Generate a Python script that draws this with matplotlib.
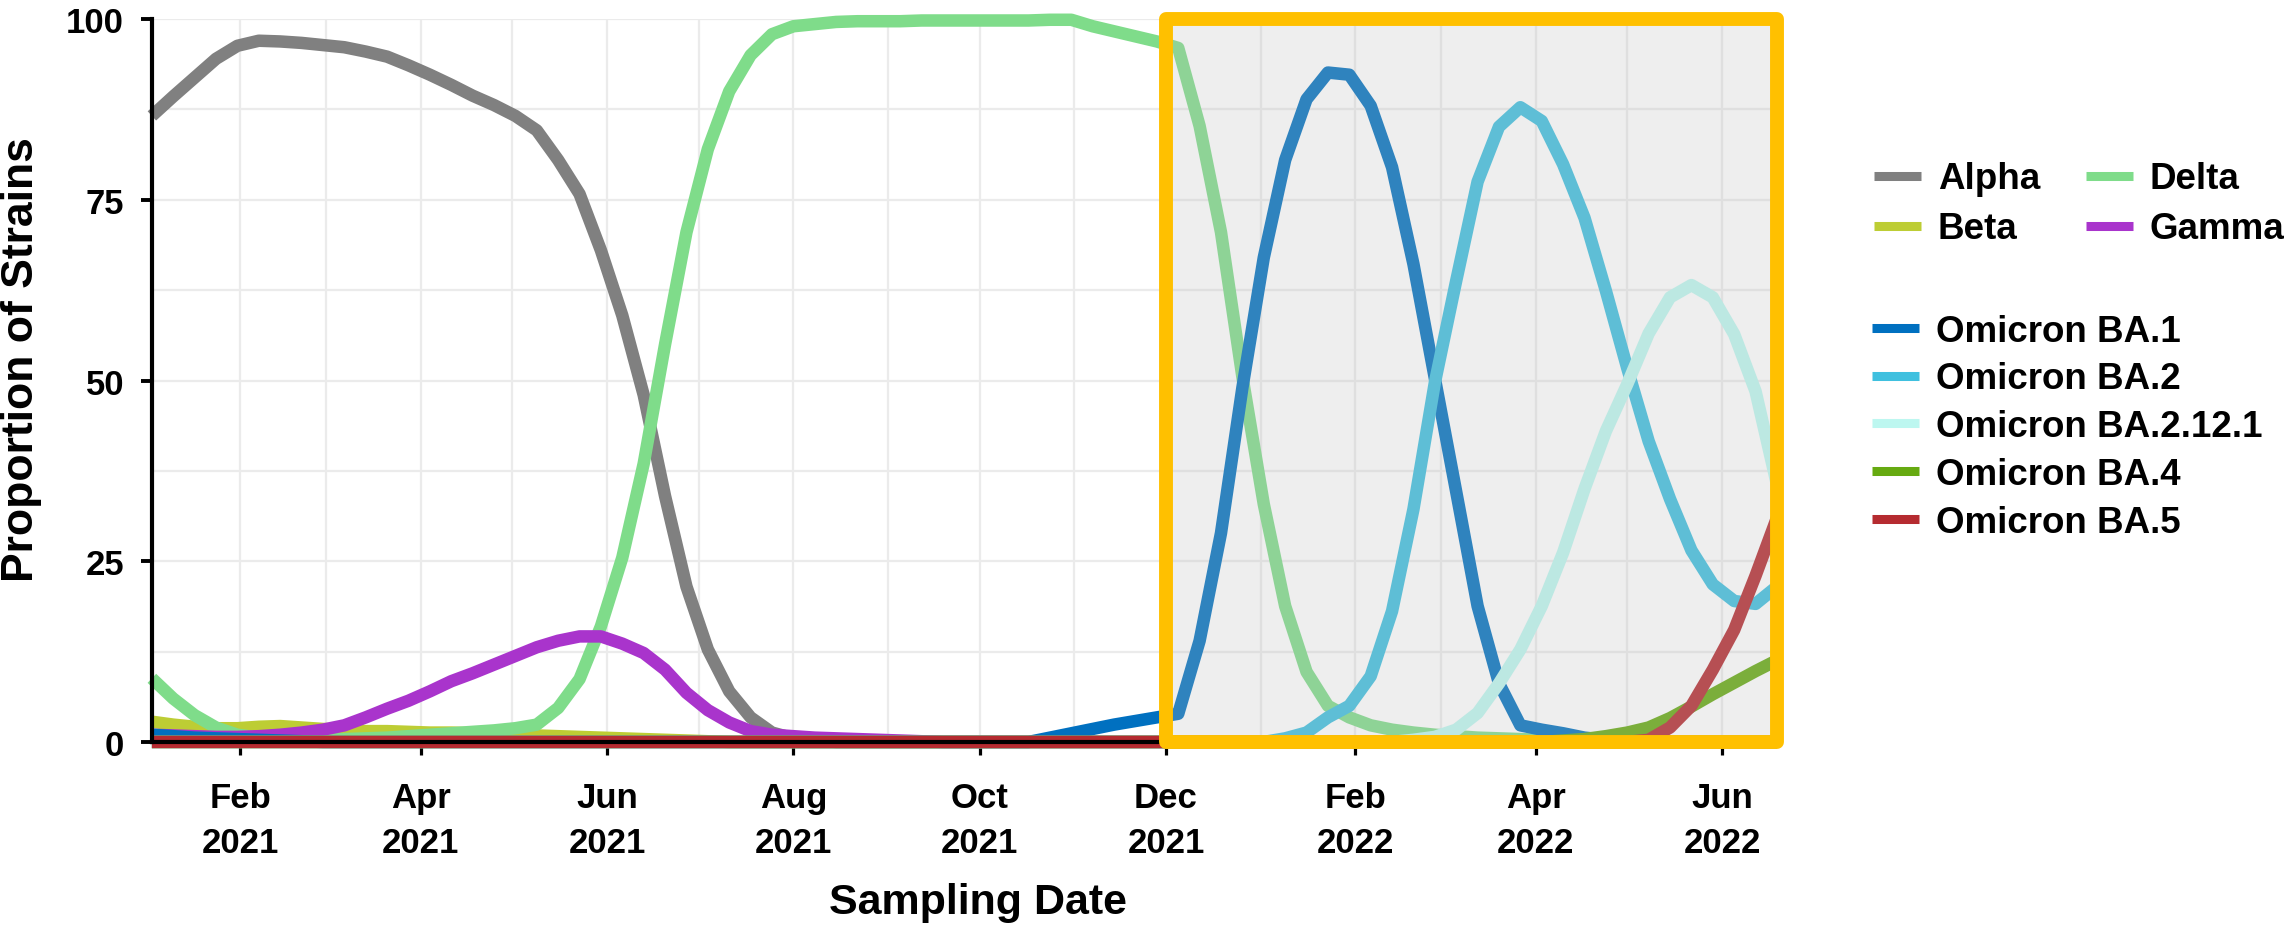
import matplotlib.pyplot as plt
import matplotlib.dates as mdates
from matplotlib.patches import Rectangle
from matplotlib.ticker import MultipleLocator
import pandas as pd

# weekly sampling dates (Sunday), Jan 2021 - Jun 2022
dates = pd.date_range('2021-01-03', '2022-06-19', freq='7D')

alpha = [86.6, 89.3, 91.9, 94.5, 96.3, 97.0, 96.9, 96.7, 96.4, 96.1,
         95.5, 94.8, 93.6, 92.3, 90.9, 89.4, 88.1, 86.6, 84.6, 80.5,
         75.8, 68.0, 59.0, 48.0, 34.0, 21.5, 12.8, 7.0, 3.4, 1.3,
         0.5, 0.2, 0, 0, 0, 0, 0, 0, 0, 0,
         0, 0, 0, 0, 0, 0, 0, 0, 0, 0,
         0, 0, 0, 0, 0, 0, 0, 0, 0, 0,
         0, 0, 0, 0, 0, 0, 0, 0, 0, 0,
         0, 0, 0, 0, 0, 0, 0]
beta = [2.8, 2.4, 2.1, 1.9, 1.9, 2.1, 2.2, 2.0, 1.8, 1.7,
        1.5, 1.5, 1.4, 1.3, 1.3, 1.2, 1.1, 1.0, 0.9, 0.8,
        0.7, 0.6, 0.5, 0.4, 0.3, 0.2, 0.1, 0, 0, 0,
        0, 0, 0, 0, 0, 0, 0, 0, 0, 0,
        0, 0, 0, 0, 0, 0, 0, 0, 0, 0,
        0, 0, 0, 0, 0, 0, 0, 0, 0, 0,
        0, 0, 0, 0, 0, 0, 0, 0, 0, 0,
        0, 0, 0, 0, 0, 0, 0]
delta = [8.8, 6.0, 3.7, 2.0, 1.0, 0.6, 0.4, 0.3, 0.3, 0.4,
         0.5, 0.6, 0.8, 1.0, 1.2, 1.4, 1.6, 1.9, 2.4, 4.7,
         8.7, 16.0, 25.5, 38.5, 55.0, 70.5, 82.0, 90.0, 95.0, 97.9,
         99.0, 99.3, 99.6, 99.7, 99.7, 99.7, 99.8, 99.8, 99.8, 99.8,
         99.8, 99.8, 99.9, 99.9, 99.0, 98.3, 97.6, 96.9, 96.0, 85.2,
         70.5, 50.5, 32.9, 18.8, 9.7, 5.0, 3.4, 2.3, 1.7, 1.3,
         1.0, 0.8, 0.6, 0.5, 0.4, 0.3, 0.2, 0.1, 0, 0,
         0, 0, 0, 0, 0, 0, 0]
gamma = [1.0, 0.9, 0.8, 0.7, 0.7, 0.8, 1.0, 1.3, 1.7, 2.3,
         3.4, 4.6, 5.7, 7.0, 8.4, 9.5, 10.7, 11.9, 13.1, 14.0,
         14.6, 14.6, 13.6, 12.3, 10.0, 6.8, 4.4, 2.7, 1.5, 1.0,
         0.8, 0.6, 0.5, 0.4, 0.3, 0.2, 0.1, 0, 0, 0,
         0, 0, 0, 0, 0, 0, 0, 0, 0, 0,
         0, 0, 0, 0, 0, 0, 0, 0, 0, 0,
         0, 0, 0, 0, 0, 0, 0, 0, 0, 0,
         0, 0, 0, 0, 0, 0, 0]
ba1 = [1.0, 0.8, 0.6, 0.5, 0.4, 0.3, 0.2, 0.1, 0, 0,
       0, 0, 0, 0, 0, 0, 0, 0, 0, 0,
       0, 0, 0, 0, 0, 0, 0, 0, 0, 0,
       0, 0, 0, 0, 0, 0, 0, 0, 0, 0,
       0, 0, 0.6, 1.2, 1.8, 2.4, 2.9, 3.4, 3.9, 14.0,
       28.9, 49.0, 67.0, 80.5, 88.9, 92.6, 92.3, 88.0, 79.5, 66.1,
       50.3, 34.6, 18.8, 8.1, 2.3, 1.7, 1.2, 0.6, 0.3, 0,
       0, 0, 0, 0, 0, 0, 0]
ba2 = [0, 0, 0, 0, 0, 0, 0, 0, 0, 0,
       0, 0, 0, 0, 0, 0, 0, 0, 0, 0,
       0, 0, 0, 0, 0, 0, 0, 0, 0, 0,
       0, 0, 0, 0, 0, 0, 0, 0, 0, 0,
       0, 0, 0, 0, 0, 0, 0, 0, 0, 0,
       0, 0, 0, 0.5, 1.3, 3.4, 5.0, 9.1, 18.1, 32.2,
       49.7, 63.8, 77.5, 85.1, 87.8, 85.9, 79.9, 72.5, 62.4, 51.7,
       41.6, 33.6, 26.5, 21.8, 19.5, 19.1, 21.5]
ba2121 = [0, 0, 0, 0, 0, 0, 0, 0, 0, 0,
          0, 0, 0, 0, 0, 0, 0, 0, 0, 0,
          0, 0, 0, 0, 0, 0, 0, 0, 0, 0,
          0, 0, 0, 0, 0, 0, 0, 0, 0, 0,
          0, 0, 0, 0, 0, 0, 0, 0, 0, 0,
          0, 0, 0, 0, 0, 0, 0, 0, 0, 0.3,
          0.7, 1.7, 4.0, 8.1, 12.8, 18.8, 26.2, 35.0, 43.0, 49.5,
          56.5, 61.5, 63.2, 61.5, 56.4, 48.5, 35.6]
ba4 = [0, 0, 0, 0, 0, 0, 0, 0, 0, 0,
       0, 0, 0, 0, 0, 0, 0, 0, 0, 0,
       0, 0, 0, 0, 0, 0, 0, 0, 0, 0,
       0, 0, 0, 0, 0, 0, 0, 0, 0, 0,
       0, 0, 0, 0, 0, 0, 0, 0, 0, 0,
       0, 0, 0, 0, 0, 0, 0, 0, 0, 0,
       0, 0, 0, 0, 0, 0, 0.2, 0.4, 0.8, 1.3,
       2.0, 3.3, 4.9, 6.6, 8.2, 9.8, 11.3]
ba5 = [0, 0, 0, 0, 0, 0, 0, 0, 0, 0,
       0, 0, 0, 0, 0, 0, 0, 0, 0, 0,
       0, 0, 0, 0, 0, 0, 0, 0, 0, 0,
       0, 0, 0, 0, 0, 0, 0, 0, 0, 0,
       0, 0, 0, 0, 0, 0, 0, 0, 0, 0,
       0, 0, 0, 0, 0, 0, 0, 0, 0, 0,
       0, 0, 0, 0, 0, 0, 0, 0, 0, 0,
       0.3, 2.0, 5.0, 10.0, 15.5, 23.0, 31.0]

names = ['Alpha', 'Beta', 'Delta', 'Gamma', 'Omicron BA.1', 'Omicron BA.2',
         'Omicron BA.2.12.1', 'Omicron BA.4', 'Omicron BA.5']
series = [alpha, beta, delta, gamma, ba1, ba2, ba2121, ba4, ba5]
colors = ['#808080', '#BDCD34', '#7FDC8A', '#A934CC', '#0070C0', '#3FC0DF',
          '#BDF7F0', '#66AA11', '#B52B30']

tick_dates = pd.to_datetime(['2021-02-01', '2021-04-01', '2021-06-01', '2021-08-01',
                             '2021-10-01', '2021-12-01', '2022-02-01', '2022-04-01',
                             '2022-06-01'])
tick_labels = ['Feb\n2021', 'Apr\n2021', 'Jun\n2021', 'Aug\n2021', 'Oct\n2021',
               'Dec\n2021', 'Feb\n2022', 'Apr\n2022', 'Jun\n2022']
highlight_start = pd.Timestamp('2021-12-01')  # Omicron period box

plt.rcParams['font.family'] = ['Liberation Sans', 'DejaVu Sans']
plt.rcParams['font.weight'] = 'bold'

fig = plt.figure(figsize=(22.84, 9.28), dpi=100)
ax = fig.add_axes([0.0665, 0.1994, 0.7115, 0.779])

handles = []
for name, vals, col in zip(names, series, colors):
    ln, = ax.plot(dates, vals, color=col, lw=9, label=name, clip_on=False,
                  solid_capstyle='butt', zorder=3)
    handles.append(ln)

# highlighted Omicron period
x0 = mdates.date2num(highlight_start)
x1 = mdates.date2num(dates[-1])
box = Rectangle((x0, 0), x1 - x0, 100, facecolor=(0.737, 0.737, 0.737, 0.25),
                edgecolor='#FFC000', lw=10, joinstyle='round', clip_on=False, zorder=6)
ax.add_patch(box)

ax.set_xlim(dates[0], dates[-1])
ax.set_ylim(0, 100)
ax.set_xticks(tick_dates)
ax.set_xticklabels(tick_labels, linespacing=1.45)
ax.xaxis.set_minor_locator(mdates.MonthLocator())
ax.set_yticks([0, 25, 50, 75, 100])
ax.yaxis.set_minor_locator(MultipleLocator(12.5))
ax.grid(which='both', color='#EBEBEB', lw=1.6)
ax.set_axisbelow(True)

ax.tick_params(axis='x', which='major', length=9, width=2.3, labelsize=25, pad=19)
ax.tick_params(axis='y', which='major', length=8, width=2.8, labelsize=25, pad=12)
ax.tick_params(which='minor', length=0)

for s in ['top', 'right']:
    ax.spines[s].set_visible(False)
for s in ['left', 'bottom']:
    ax.spines[s].set_linewidth(3)
    ax.spines[s].set_zorder(5)

fig.text(978 / 2284, 1 - 903 / 928, 'Sampling Date', fontsize=31, ha='center', va='center')
fig.text(22 / 2284, 1 - 360 / 928, 'Proportion of Strains', fontsize=32,
         rotation=90, ha='center', va='center')

leg1 = fig.legend(handles=handles[:4], loc='upper left', bbox_to_anchor=(0.8205, 0.825),
                  ncol=2, frameon=False, fontsize=26.5, handlelength=1.28,
                  handletextpad=0.45, columnspacing=1.25, labelspacing=0.41,
                  borderpad=0, borderaxespad=0)
leg2 = fig.legend(handles=handles[4:], loc='upper left', bbox_to_anchor=(0.8196, 0.661),
                  ncol=1, frameon=False, fontsize=26.5, handlelength=1.28,
                  handletextpad=0.45, labelspacing=0.35, borderpad=0, borderaxespad=0)
for lg in (leg1, leg2):
    for ln in lg.get_lines():
        ln.set_linewidth(6.5)

fig.savefig('out.png', dpi=100)
